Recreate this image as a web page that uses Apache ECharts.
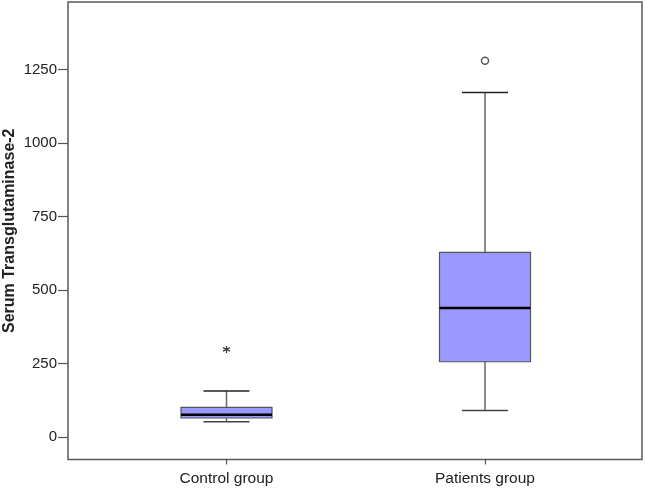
<!DOCTYPE html>
<html lang="en">
<head>
  <meta charset="UTF-8">
  <title>Serum Transglutaminase-2</title>
  <script src="https://cdn.jsdelivr.net/npm/echarts@6/dist/echarts.min.js"></script>
  <style>
    html, body { margin: 0; padding: 0; background: #fff; }
    #chart { width: 645px; height: 490px; }
  </style>
</head>
<body>
  <div id="chart"></div>
  <script>
    // data
    const categories = ['Control group', 'Patients group'];
    const lowerWhisker = [52, 90];
    const q1 = [64.6, 256];
    const median = [76, 439];
    const q3 = [101, 628];
    const upperWhisker = [156.5, 1172];
    const extremeOutliers = [[0, 298]];   // drawn as *
    const outliers = [[1, 1280]];         // drawn as o
    const yTicks = [0, 250, 500, 750, 1000, 1250];

    const yMin = -76.5, yMax = 1479.6;
    const boxRows = categories.map((c, i) => [i, lowerWhisker[i], q1[i], median[i], q3[i], upperWhisker[i]]);

    const BOX_W = 91, CAP_W = 46;

    function renderBox(params, api) {
      const i = api.value(0);
      const pLow = api.coord([i, api.value(1)]);
      const pQ1 = api.coord([i, api.value(2)]);
      const pMed = api.coord([i, api.value(3)]);
      const pQ3 = api.coord([i, api.value(4)]);
      const pHigh = api.coord([i, api.value(5)]);
      const x = pMed[0];
      return {
        type: 'group',
        children: [
          { type: 'line', shape: { x1: x, y1: pHigh[1], x2: x, y2: pQ3[1] }, style: { stroke: '#666', lineWidth: 1.5 } },
          { type: 'line', shape: { x1: x, y1: pQ1[1], x2: x, y2: pLow[1] }, style: { stroke: '#666', lineWidth: 1.5 } },
          { type: 'line', shape: { x1: x - CAP_W / 2, y1: pHigh[1], x2: x + CAP_W / 2, y2: pHigh[1] }, style: { stroke: '#222', lineWidth: 1.5 } },
          { type: 'line', shape: { x1: x - CAP_W / 2, y1: pLow[1], x2: x + CAP_W / 2, y2: pLow[1] }, style: { stroke: '#444', lineWidth: 1.5 } },
          { type: 'rect', shape: { x: x - BOX_W / 2, y: pQ3[1], width: BOX_W, height: pQ1[1] - pQ3[1] },
            style: { fill: '#9999ff', stroke: '#555', lineWidth: 1.2 } },
          { type: 'line', shape: { x1: x - BOX_W / 2, y1: pMed[1], x2: x + BOX_W / 2, y2: pMed[1] }, style: { stroke: '#000', lineWidth: 2.5 } }
        ]
      };
    }

    const chart = echarts.init(document.getElementById('chart'));
    chart.setOption({
      backgroundColor: '#fff',
      animation: false,
      textStyle: { fontFamily: 'Liberation Sans, Arial, sans-serif' },
      grid: [
        // frame + y axis
        { left: 68, right: 3, top: 2, bottom: 30.5, outerBoundsMode: 'none', containLabel: false,
          show: true, borderColor: '#5a5a5a', borderWidth: 1.5, backgroundColor: 'transparent' },
        // boxes + category axis
        { left: 97.25, right: 30.75, top: 2, bottom: 30.5, outerBoundsMode: 'none', containLabel: false }
      ],
      xAxis: [
        { gridIndex: 0, type: 'value', show: false, min: 0, max: 1 },
        {
          gridIndex: 1, type: 'category', data: categories, boundaryGap: true,
          axisLine: { show: false, onZero: false },
          axisTick: { show: true, alignWithLabel: true, length: 5, lineStyle: { color: '#555', width: 1.2 } },
          axisLabel: { margin: 11, fontSize: 15.5, color: '#222' },
          splitLine: { show: false }
        }
      ],
      yAxis: [
        {
          gridIndex: 0, type: 'value', min: yMin, max: yMax,
          name: 'Serum Transglutaminase-2', nameLocation: 'middle', nameGap: 50, nameMoveOverlap: false,
          nameTextStyle: { fontSize: 16, fontWeight: 'bold', color: '#222' },
          axisLine: { show: false },
          axisTick: { show: true, length: 10, customValues: yTicks, lineStyle: { color: '#555', width: 1.2 } },
          axisLabel: { customValues: yTicks, margin: 11, fontSize: 15, color: '#222', formatter: v => String(v) },
          splitLine: { show: false }
        },
        { gridIndex: 1, type: 'value', min: yMin, max: yMax, show: false }
      ],
      series: [
        {
          type: 'custom', xAxisIndex: 1, yAxisIndex: 1,
          renderItem: renderBox, data: boxRows,
          encode: { x: 0, y: [1, 2, 3, 4, 5] }
        },
        {
          type: 'scatter', xAxisIndex: 1, yAxisIndex: 1, data: extremeOutliers,
          symbol: 'path://M0,-5L0,5M-4.33,-2.5L4.33,2.5M-4.33,2.5L4.33,-2.5',
          symbolSize: 7,
          itemStyle: { color: 'none', borderColor: '#111', borderWidth: 1.3 }
        },
        {
          type: 'scatter', xAxisIndex: 1, yAxisIndex: 1, data: outliers,
          symbol: 'circle', symbolSize: 7,
          itemStyle: { color: '#fff', borderColor: '#333', borderWidth: 1.5 }
        }
      ]
    });
  </script>
</body>
</html>
